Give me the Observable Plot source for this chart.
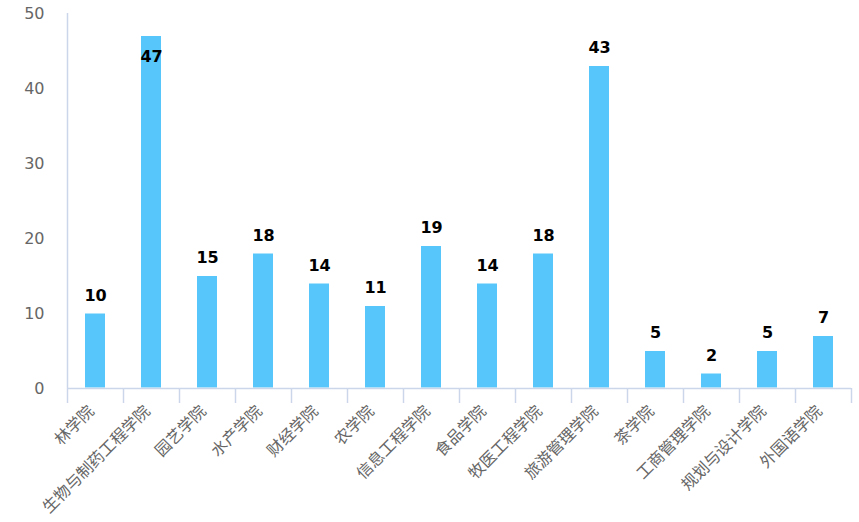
<!DOCTYPE html>
<html>
<head>
<meta charset="utf-8">
<script src="https://cdn.jsdelivr.net/npm/d3@7"></script>
<script src="https://cdn.jsdelivr.net/npm/@observablehq/plot@0.6"></script>
<style>
  html, body { margin: 0; padding: 0; background: #fff; }
</style>
</head>
<body>
<div id="chart"></div>
<script>
const categories = ["林学院", "生物与制药工程学院", "园艺学院", "水产学院", "财经学院", "农学院", "信息工程学院", "食品学院", "牧医工程学院", "旅游管理学院", "茶学院", "工商管理学院", "规划与设计学院", "外国语学院"];
const values = [10, 47, 15, 18, 14, 11, 19, 14, 18, 43, 5, 2, 5, 7];
const yTicks = [0, 10, 20, 30, 40, 50];

const data = categories.map((c, i) => ({category: c, value: values[i]}));

const W = 859, H = 522;
const mL = 67, mR = 8, mT = 13, mB = 134;
const step = (W - mL - mR) / categories.length;
const frameH = H - mT - mB;
const axisColor = "#ccd6eb";
const barColor = "#56c6fb";
const numFont = "'DejaVu Sans', Verdana, sans-serif";

const chart = Plot.plot({
  width: W,
  height: H,
  marginLeft: mL,
  marginRight: mR,
  marginTop: mT,
  marginBottom: mB,
  style: {fontFamily: "'Noto Sans CJK SC', 'DejaVu Sans', sans-serif", background: "#fff"},
  x: {domain: categories, padding: 0, label: null},
  y: {domain: [0, 50], label: null},
  marks: [
    Plot.barY(data, {x: "category", y: "value", fill: barColor, stroke: "#fff", strokeWidth: 1, insetLeft: step * 0.3125, insetRight: step * 0.3125}),
    Plot.ruleY([0], {stroke: axisColor, strokeWidth: 1.5}),
    // y axis line
    Plot.ruleX([categories[0]], {x: d => d, dx: -step / 2, y1: 0, y2: 50, stroke: axisColor, strokeWidth: 1.5}),
    // category boundary ticks
    Plot.ruleX(categories, {x: d => d, dx: -step / 2, insetTop: frameH, insetBottom: -15, stroke: axisColor, strokeWidth: 1.5}),
    Plot.ruleX([categories[categories.length - 1]], {x: d => d, dx: step / 2, insetTop: frameH, insetBottom: -15, stroke: axisColor, strokeWidth: 1.5}),
    Plot.axisY({ticks: yTicks, tickSize: 0, tickPadding: 23, fontSize: 16, fill: "#666", fontFamily: numFont, label: null}),
    Plot.axisX({tickSize: 0, tickRotate: -45, tickPadding: 20, dx: -4, fontSize: 16, fill: "#666", label: null}),
    Plot.text(data.filter(d => d.value < 45), {x: "category", y: "value", text: d => String(d.value), dy: -18, fill: "#000", fontWeight: "bold", fontSize: 16, fontFamily: numFont, stroke: "#fff", strokeWidth: 1}),
    Plot.text(data.filter(d => d.value >= 45), {x: "category", y: "value", text: d => String(d.value), dy: 21, fill: "#000", fontWeight: "bold", fontSize: 16, fontFamily: numFont})
  ]
});
document.getElementById("chart").appendChild(chart);
</script>
</body>
</html>
